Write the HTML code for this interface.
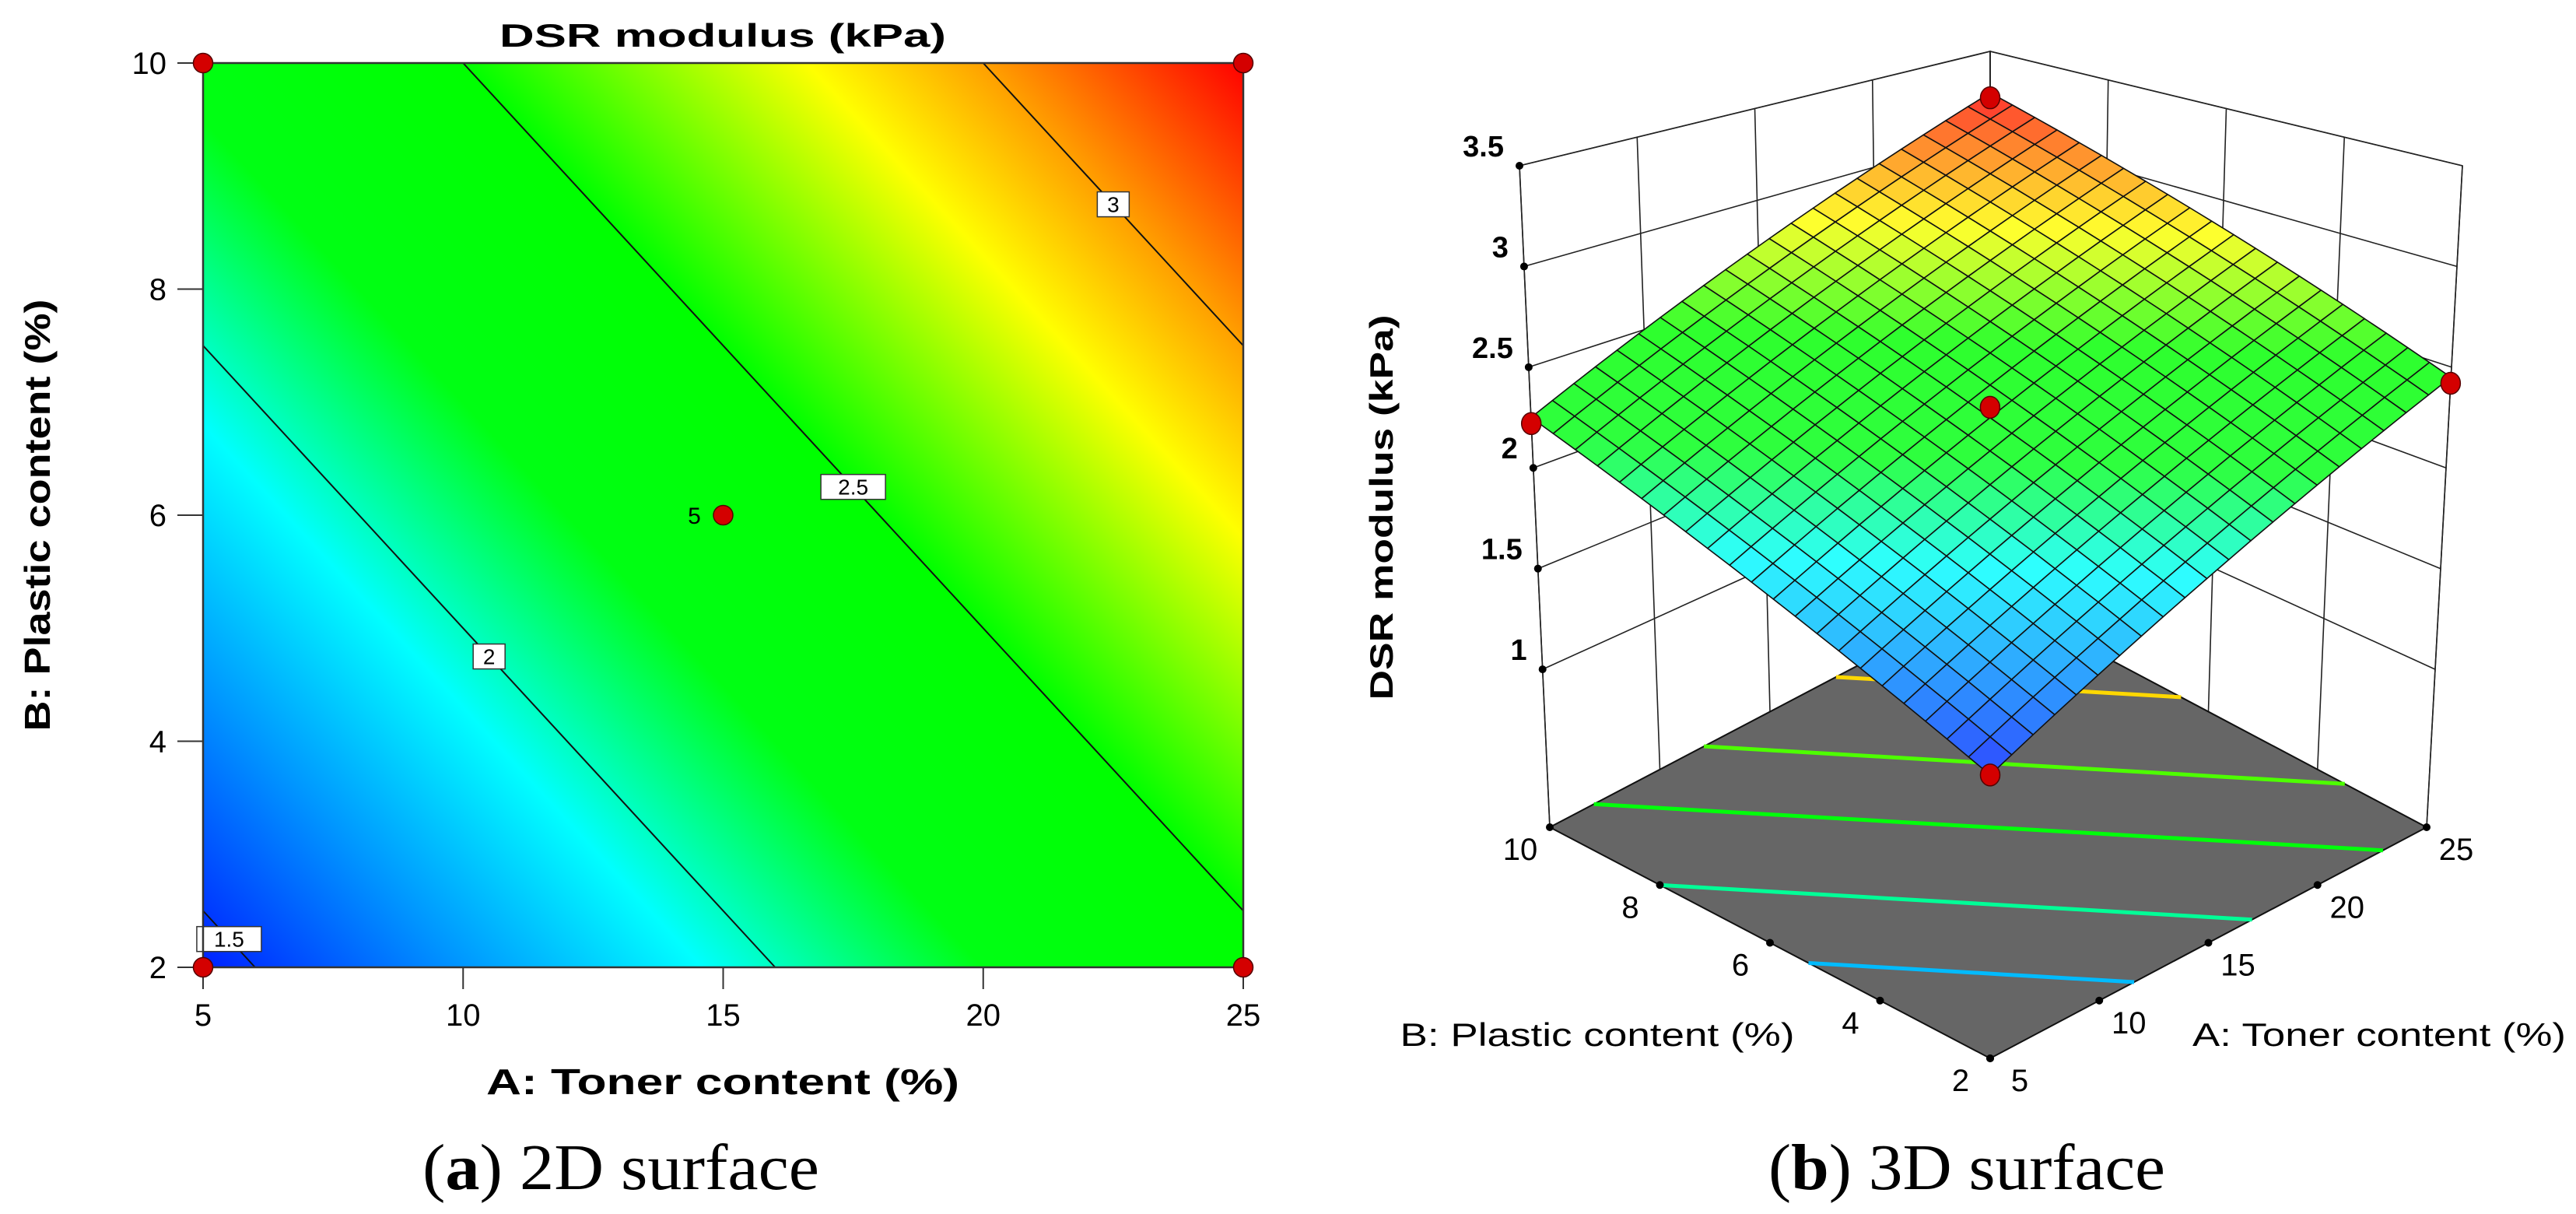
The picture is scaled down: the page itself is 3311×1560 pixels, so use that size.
<!DOCTYPE html>
<html><head><meta charset="utf-8"><title>DSR modulus surfaces</title>
<style>
html,body{margin:0;padding:0;background:#fff;}
svg{display:block;font-family:"Liberation Sans",Arial,sans-serif;}
.cap{font-family:"Liberation Serif",serif;}
</style></head>
<body>
<svg id="fig" width="3311" height="1560" viewBox="0 0 3311 1560" xmlns="http://www.w3.org/2000/svg">
  <defs id="defs"></defs>
  <g id="panelA"></g>
  <g id="panelB"></g>
  <text class="cap" x="798" y="1528" font-size="84" text-anchor="middle" textLength="510" lengthAdjust="spacingAndGlyphs">(<tspan font-weight="bold">a</tspan>) 2D surface</text>
  <text class="cap" x="2528" y="1528" font-size="84" text-anchor="middle" textLength="510" lengthAdjust="spacingAndGlyphs">(<tspan font-weight="bold">b</tspan>) 3D surface</text>
</svg>
<script>
// ---------- data ----------
const modelCoef = [1.0, 0.05, 0.1];          // DSR = c0 + c1*A + c2*B
const xTicks = [5, 10, 15, 20, 25];
const yTicks = [2, 4, 6, 8, 10];
const zTicks = [1, 1.5, 2, 2.5, 3, 3.5];
const zTickLabels = ["1", "1.5", "2", "2.5", "3", "3.5"];
const contourLevels = [1.5, 2, 2.5, 3];
const contourLabels = ["1.5", "2", "2.5", "3"];
const contourLabelA = [5.5, 10.5, 17.5, 22.5];
const floorLevels = [1.78, 2.05, 2.35, 2.6, 2.9];
const designA = [5, 5, 25, 25, 15];
const designB = [2, 10, 2, 10, 6];
const designY = [1.45, 2.22, 2.42, 3.22, 2.32];
const centerReps = ["", "", "", "", "5"];
const cmapVals = [1.45, 1.7, 1.93, 2.2, 2.5, 2.83, 3.0, 3.25];
const cmapCols = [[0,32,255],[0,150,255],[0,255,255],[0,255,20],[0,255,0],[255,255,0],[255,160,0],[255,0,0]];

const NS = "http://www.w3.org/2000/svg";
function mk(tag, attrs, parent) {
  const e = document.createElementNS(NS, tag);
  for (const k in attrs) e.setAttribute(k, attrs[k]);
  parent.appendChild(e); return e;
}
function model(A, B) { return modelCoef[0] + modelCoef[1]*A + modelCoef[2]*B; }
function cmap(v, mixW) {
  mixW = mixW || 0;
  let i = 0;
  if (v <= cmapVals[0]) i = 0; else if (v >= cmapVals[cmapVals.length-1]) i = cmapVals.length-2;
  else while (v > cmapVals[i+1]) i++;
  let t = (v - cmapVals[i]) / (cmapVals[i+1] - cmapVals[i]); t = Math.max(0, Math.min(1, t));
  const c = cmapCols[i].map((a, k) => a + (cmapCols[i+1][k] - a) * t);
  return "rgb(" + c.map(a => Math.round(a + (255 - a) * mixW)).join(",") + ")";
}
const Amin = 5, Amax = 25, Bmin = 2, Bmax = 10;
function contourSeg(L) {
  const k = (L - modelCoef[0]);
  const pts = [];
  const tryA = (A) => { const B = (k - modelCoef[1]*A) / modelCoef[2]; if (B >= Bmin-1e-9 && B <= Bmax+1e-9) pts.push([A, B]); };
  const tryB = (B) => { const A = (k - modelCoef[2]*B) / modelCoef[1]; if (A > Amin+1e-9 && A < Amax-1e-9) pts.push([A, B]); };
  tryA(Amin); tryA(Amax); tryB(Bmin); tryB(Bmax);
  return pts.slice(0, 2);
}

// ---------- Panel A : 2D contour ----------
(function(){
  const g = document.getElementById("panelA");
  const defs = document.getElementById("defs");
  const X0 = 261, X1 = 1598, Y0 = 81, Y1 = 1243;
  const sx = A => X0 + (A - Amin) / (Amax - Amin) * (X1 - X0);
  const sy = B => Y1 - (B - Bmin) / (Bmax - Bmin) * (Y1 - Y0);
  const gx = modelCoef[1] / ((X1 - X0) / (Amax - Amin));
  const gy = -modelCoef[2] / ((Y1 - Y0) / (Bmax - Bmin));
  const v0 = cmapVals[0], v1 = cmapVals[cmapVals.length-1];
  const vStart = model(Amin, Bmin);
  const px0 = sx(Amin), py0 = sy(Bmin);
  const g2 = gx*gx + gy*gy;
  const s0 = (v0 - vStart) / g2, s1 = (v1 - vStart) / g2;
  const lg = mk("linearGradient", {id:"heat", gradientUnits:"userSpaceOnUse",
    x1: px0 + gx*s0, y1: py0 + gy*s0, x2: px0 + gx*s1, y2: py0 + gy*s1}, defs);
  cmapVals.forEach((v, i) => mk("stop", {offset: (v - v0) / (v1 - v0), "stop-color": cmap(v)}, lg));
  const heat = mk("rect", {x: X0, y: Y0, width: X1 - X0, height: Y1 - Y0, fill: "url(#heat)"}, g);
  
  
  contourLevels.forEach((L, i) => {
    const s = contourSeg(L); if (s.length < 2) return;
    const ln = mk("line", {x1: sx(s[0][0]), y1: sy(s[0][1]), x2: sx(s[1][0]), y2: sy(s[1][1]), stroke: "#111", "stroke-width": 2}, g);
    
    
  });
  contourLevels.forEach((L, i) => {
    const A = contourLabelA[i];
    const B = (L - modelCoef[0] - modelCoef[1]*A) / modelCoef[2];
    const cx = sx(A), cy = sy(B);
    const w = 20 + 21 * contourLabels[i].length, h = 32;
    const lb = mk("g", {}, g);
    
    
    mk("rect", {x: cx - w/2, y: cy - h/2, width: w, height: h, fill: "#fff", stroke: "#333", "stroke-width": 1.5}, lb);
    const t = mk("text", {x: cx, y: cy + 10, "font-size": 28, "text-anchor": "middle"}, lb);
    t.textContent = contourLabels[i];
  });
  const bd = mk("rect", {x: X0, y: Y0, width: X1 - X0, height: Y1 - Y0, fill: "none", stroke: "#333", "stroke-width": 2.5}, g);
  
  
  xTicks.forEach(v => {
    const tk = mk("line", {x1: sx(v), y1: Y1, x2: sx(v), y2: Y1 + 28, stroke: "#333", "stroke-width": 2}, g);
    
    
    const t = mk("text", {x: sx(v), y: Y1 + 75, "font-size": 40, "text-anchor": "middle"}, g);
    
    
    t.textContent = v;
  });
  yTicks.forEach(v => {
    const tk = mk("line", {x1: X0 - 33, y1: sy(v), x2: X0, y2: sy(v), stroke: "#333", "stroke-width": 2}, g);
    
    
    const t = mk("text", {x: X0 - 47, y: sy(v) + 14, "font-size": 40, "text-anchor": "end"}, g);
    
    
    t.textContent = v;
  });
  designA.forEach((A, i) => {
    const c = mk("circle", {cx: sx(A), cy: sy(designB[i]), r: 12.5, fill: "#d40000", stroke: "#500", "stroke-width": 1.5}, g);
    
    
    if (centerReps[i]) {
      const t = mk("text", {x: sx(A) - 37, y: sy(designB[i]) + 11, "font-size": 30, "text-anchor": "middle"}, g);
      
      
      t.textContent = centerReps[i];
    }
  });
  const tt = mk("text", {x: 929, y: 60, "font-size": 42, "font-weight": "bold", "text-anchor": "middle", textLength: 574, lengthAdjust: "spacingAndGlyphs"}, g);
  
  
  tt.textContent = "DSR modulus (kPa)";
  const xl = mk("text", {x: 929, y: 1406, "font-size": 46, "font-weight": "bold", "text-anchor": "middle", textLength: 608, lengthAdjust: "spacingAndGlyphs"}, g);
  
  
  xl.textContent = "A: Toner content (%)";
  const yl = mk("text", {x: 0, y: 0, "font-size": 46, "font-weight": "bold", "text-anchor": "middle", textLength: 555, lengthAdjust: "spacingAndGlyphs", transform: "translate(64,662) rotate(-90)"}, g);
  
  
  yl.textContent = "B: Plastic content (%)";
})();

// ---------- Panel B : 3D surface ----------
(function(){
  const g = document.getElementById("panelB");
  const zmin = 0.216, zmax = 3.5;
  const F = {"00":[2558,1360],"10":[3119,1063],"01":[1992,1063],"11":[2558,766]};
  const T = {"00":[2558,391],"10":[3165,213],"01":[1953,213],"11":[2558,66]};
  function P(A, B, z) {
    const u = (A - Amin) / (Amax - Amin), v = (B - Bmin) / (Bmax - Bmin), w = (z - zmin) / (zmax - zmin);
    const bil = (C) => {
      const x = C["00"][0]*(1-u)*(1-v) + C["10"][0]*u*(1-v) + C["01"][0]*(1-u)*v + C["11"][0]*u*v;
      const y = C["00"][1]*(1-u)*(1-v) + C["10"][1]*u*(1-v) + C["01"][1]*(1-u)*v + C["11"][1]*u*v;
      return [x, y];
    };
    const f = bil(F), t = bil(T);
    return [f[0] + (t[0]-f[0])*w, f[1] + (t[1]-f[1])*w];
  }
  const pl = pts => pts.map(p => p[0].toFixed(1) + "," + p[1].toFixed(1)).join(" ");
  const walls = mk("g", {stroke: "#222", "stroke-width": 1.6, fill: "none"}, g);
  
  
  mk("polygon", {points: pl([P(5,10,zmin),P(25,10,zmin),P(25,10,zmax),P(5,10,zmax)]), fill: "#fff"}, walls);
  mk("polygon", {points: pl([P(25,2,zmin),P(25,10,zmin),P(25,10,zmax),P(25,2,zmax)]), fill: "#fff"}, walls);
  xTicks.forEach(A => mk("line", {x1: P(A,10,zmin)[0], y1: P(A,10,zmin)[1], x2: P(A,10,zmax)[0], y2: P(A,10,zmax)[1]}, walls));
  yTicks.forEach(B => mk("line", {x1: P(25,B,zmin)[0], y1: P(25,B,zmin)[1], x2: P(25,B,zmax)[0], y2: P(25,B,zmax)[1]}, walls));
  zTicks.forEach(z => {
    mk("polyline", {points: pl([P(5,10,z), P(25,10,z), P(25,2,z)])}, walls);
  });
  zTicks.forEach((z, i) => {
    const p = P(5, 10, z);
    const d = mk("circle", {cx: p[0], cy: p[1], r: 5, fill: "#000"}, g);
    
    
    const t = mk("text", {x: p[0] - 20, y: p[1] - 12, "font-size": 38, "font-weight": "bold", "text-anchor": "end"}, g);
    
    
    t.textContent = zTickLabels[i];
  });
  const fl = mk("polygon", {points: pl([P(5,2,zmin),P(25,2,zmin),P(25,10,zmin),P(5,10,zmin)]), fill: "#666", stroke: "#111", "stroke-width": 2}, g);
  
  
  floorLevels.forEach(L => {
    const s = contourSeg(L); if (s.length < 2) return;
    const pts = [];
    for (let k = 0; k <= 10; k++) { const A = s[0][0] + (s[1][0]-s[0][0])*k/10, B = s[0][1] + (s[1][1]-s[0][1])*k/10; pts.push(P(A, B, zmin)); }
    const c = mk("polyline", {points: pl(pts), fill: "none", stroke: cmap(L), "stroke-width": 5}, g);
    
    
  });
  yTicks.forEach(B => {
    const p = P(5, B, zmin);
    const d = mk("circle", {cx: p[0], cy: p[1], r: 5, fill: "#000"}, g);
    
    
    const t = mk("text", {x: p[0] - 38, y: p[1] + 42, "font-size": 40, "text-anchor": "middle"}, g);
    
    
    t.textContent = B;
  });
  xTicks.forEach(A => {
    const p = P(A, 2, zmin);
    const d = mk("circle", {cx: p[0], cy: p[1], r: 5, fill: "#000"}, g);
    
    
    const t = mk("text", {x: p[0] + 38, y: p[1] + 42, "font-size": 40, "text-anchor": "middle"}, g);
    
    
    t.textContent = A;
  });
  const N = 21;
  const surf = mk("g", {stroke: "#111", "stroke-width": 1.6, "stroke-linejoin": "round"}, g);
  
  
  for (let i = N-1; i >= 0; i--) for (let j = N-1; j >= 0; j--) {
    const a0 = Amin + (Amax-Amin)*i/N, a1 = Amin + (Amax-Amin)*(i+1)/N;
    const b0 = Bmin + (Bmax-Bmin)*j/N, b1 = Bmin + (Bmax-Bmin)*(j+1)/N;
    const vc = model((a0+a1)/2, (b0+b1)/2);
    const q = mk("polygon", {points: pl([P(a0,b0,model(a0,b0)),P(a1,b0,model(a1,b0)),P(a1,b1,model(a1,b1)),P(a0,b1,model(a0,b1))]), fill: cmap(vc, 0.18)}, surf);
    
    
  }
  designA.forEach((A, i) => {
    const p = P(A, designB[i], designY[i]);
    const c = mk("ellipse", {cx: p[0], cy: p[1], rx: 12.5, ry: 14, fill: "#d40000", stroke: "#500", "stroke-width": 1.5}, g);
    
    
  });
  const zl = mk("text", {x: 0, y: 0, "font-size": 42, "font-weight": "bold", "text-anchor": "middle", textLength: 495, lengthAdjust: "spacingAndGlyphs", transform: "translate(1790,652) rotate(-90)"}, g);
  
  
  zl.textContent = "DSR modulus (kPa)";
  const bl = mk("text", {x: 2053, y: 1344, "font-size": 42, "text-anchor": "middle", textLength: 507, lengthAdjust: "spacingAndGlyphs"}, g);
  
  
  bl.textContent = "B: Plastic content (%)";
  const al = mk("text", {x: 3058, y: 1344, "font-size": 42, "text-anchor": "middle", textLength: 480, lengthAdjust: "spacingAndGlyphs"}, g);
  
  
  al.textContent = "A: Toner content (%)";
})();
</script>
</body></html>
